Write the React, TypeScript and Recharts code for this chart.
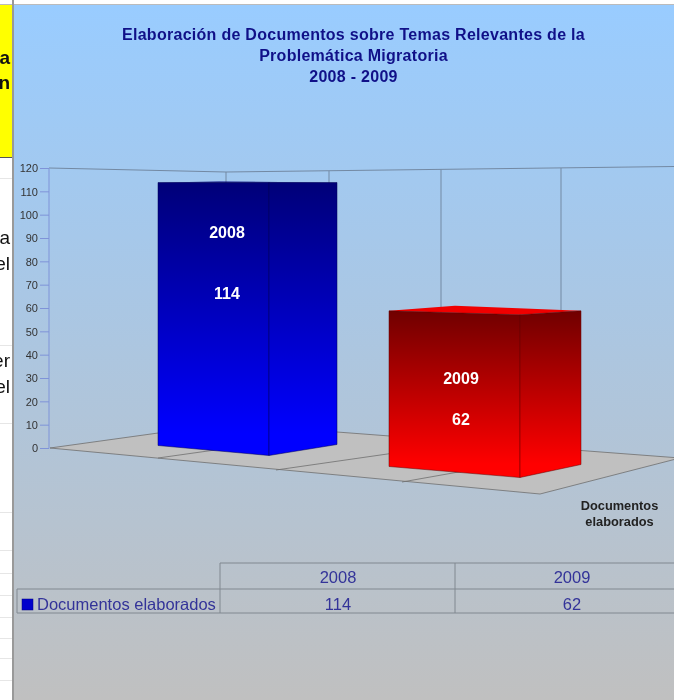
import { BarChart, Bar, XAxis, YAxis } from 'recharts'

const years = ['2008', '2009']
const documentos = [114, 62]
const yTicks = [0, 10, 20, 30, 40, 50, 60, 70, 80, 90, 100, 110, 120]
const titleLines = [
  'Elaboración de Documentos sobre Temas Relevantes de la',
  'Problemática Migratoria',
  '2008 - 2009',
]
const axisNameLines = ['Documentos', 'elaborados']
const seriesName = 'Documentos elaborados'

const chartData = years.map((year, i) => ({ year, value: documentos[i] }))

const FONT = '"Liberation Sans", Arial, sans-serif'

// perspective tweaks for each box, relative to what the scale gives the bar
const boxes = [
  { gradient: 'blueFace', top: '#000078', edge: '#000050', left: 4, split: 115, right: 183, back: 65, topY: 0, frontTop: 0, backTop: -1, baseLeft: -3, baseFront: 7, baseRight: -4, labelY1: 50, labelY2: 111, labelX: 73 },
  { gradient: 'redFace', top: '#f00000', edge: '#600000', left: -3, split: 128, right: 189, back: 63, topY: 7, frontTop: 11, backTop: 2, baseLeft: 18, baseFront: 29, baseRight: 16, labelY1: 75, labelY2: 116, labelX: 69 },
]

const Box3D = (props: any) => {
  const { x, y, height, index, payload } = props
  const b = boxes[index]
  const base = y + height
  const xl = x + b.left
  const xm = x + b.split
  const xr = x + b.right
  const pts = (p: number[][]) => p.map((q) => q.join(',')).join(' ')
  return (
    <g>
      <polygon
        points={pts([[xl, y + b.topY], [x + b.back, y + b.backTop], [xr, y + b.topY], [xm, y + b.frontTop]])}
        fill={b.top}
      />
      <polygon
        points={pts([[xl, y + b.topY], [xm, y + b.frontTop], [xm, base + b.baseFront], [xl, base + b.baseLeft]])}
        fill={`url(#${b.gradient})`}
        stroke={b.edge}
        strokeWidth={0.5}
      />
      <polygon
        points={pts([[xm, y + b.frontTop], [xr, y + b.topY], [xr, base + b.baseRight], [xm, base + b.baseFront]])}
        fill={`url(#${b.gradient})`}
        stroke={b.edge}
        strokeWidth={0.5}
      />
      <text x={x + b.labelX} y={y + b.labelY1 + 5.5} textAnchor="middle" fill="#fff" fontFamily={FONT} fontWeight="bold" fontSize={16}>
        {payload.year}
      </text>
      <text x={x + b.labelX} y={y + b.labelY2 + 5.5} textAnchor="middle" fill="#fff" fontFamily={FONT} fontWeight="bold" fontSize={16}>
        {payload.value}
      </text>
    </g>
  )
}

// the bits of the spreadsheet left of the chart
const rowLines = [178, 345, 423, 512, 550, 573, 595, 617, 638, 658, 680]
const cutWords = [
  { text: 'a', y: 47, bold: true },
  { text: 'n', y: 72, bold: true },
  { text: 'a', y: 227, bold: false },
  { text: 'el', y: 253, bold: false },
  { text: 'er', y: 350, bold: false },
  { text: 'el', y: 376, bold: false },
]

const wallLines = [
  { x: 226, top: 172 },
  { x: 329, top: 171 },
  { x: 441, top: 169.5 },
  { x: 561, top: 168 },
]

export default function App() {
  return (
    <div
      style={{
        position: 'absolute', left: 0, top: 0, width: 674, height: 700, overflow: 'hidden',
        background: '#fff', filter: 'blur(0.4px)',
      }}
    >
      {rowLines.map((y) => (
        <div key={y} style={{ position: 'absolute', left: 0, top: y, width: 13, height: 1, background: '#e6e6e6' }} />
      ))}
      <div style={{ position: 'absolute', left: 0, top: 5, width: 12, height: 152, background: '#ffff00', borderBottom: '1px solid #555' }} />
      {cutWords.map((w, i) => (
        <div
          key={i}
          style={{
            position: 'absolute', right: 664, top: w.y, fontFamily: FONT, fontSize: 19, lineHeight: '22px',
            fontWeight: w.bold ? 'bold' : 'normal', color: '#111', whiteSpace: 'nowrap',
          }}
        >
          {w.text}
        </div>
      ))}
      <div style={{ position: 'absolute', left: 0, top: 4, width: 674, height: 1, background: '#bbb' }} />
      <div style={{ position: 'absolute', left: 12, top: 0, width: 2, height: 700, background: '#999' }} />
      <div
        style={{
          position: 'absolute', left: 14, top: 5, width: 660, height: 695,
          background: 'linear-gradient(180deg, #99ccff 0%, #c0c0c0 100%)',
        }}
      >
        <div style={{ position: 'absolute', left: -14, top: -5 }}>
          <BarChart
            width={674}
            height={700}
            data={chartData}
            margin={{ top: 168.5, right: 0, bottom: 251.5, left: 0 }}
            barSize={186}
          >
            <defs>
              <linearGradient id="blueFace" x1="0" y1="0" x2="0" y2="1">
                <stop offset="0%" stopColor="#000078" />
                <stop offset="92%" stopColor="#0000ff" />
              </linearGradient>
              <linearGradient id="redFace" x1="0" y1="0" x2="0" y2="1">
                <stop offset="0%" stopColor="#700000" />
                <stop offset="92%" stopColor="#ff0000" />
              </linearGradient>
            </defs>

            {/* back walls and floor of the 3d box */}
            <polyline points="49,168 226,172 674,166.5" fill="none" stroke="#7389a3" strokeWidth={1} />
            {wallLines.map((w) => (
              <line key={w.x} x1={w.x} y1={w.top} x2={w.x} y2={430} stroke="#7389a3" strokeWidth={1} />
            ))}
            <polygon points="50,448 226,423.6 680,458 540,494" fill="#c0c0c0" stroke="#6f6f6f" strokeWidth={0.8} />
            <line x1={158} y1={458} x2={336} y2={433} stroke="#6f6f6f" strokeWidth={0.8} />
            <line x1={276} y1={470} x2={450} y2={445} stroke="#6f6f6f" strokeWidth={0.8} />
            <line x1={402} y1={482} x2={560} y2={454} stroke="#6f6f6f" strokeWidth={0.8} />

            <XAxis dataKey="year" hide padding={{ left: 79, right: 70 }} />
            <YAxis
              domain={[0, 120]}
              ticks={yTicks}
              interval={0}
              width={49}
              tickSize={9}
              tickMargin={2}
              axisLine={{ stroke: '#7f93d8', strokeWidth: 1 }}
              tickLine={{ stroke: '#7f93d8', strokeWidth: 1 }}
              tick={{ fontSize: 11, fill: '#333', fontFamily: FONT }}
            />
            <Bar dataKey="value" shape={Box3D} isAnimationActive={false} />

            {titleLines.map((line, i) => (
              <text key={i} x={353.5} y={40 + i * 21} textAnchor="middle" fontFamily={FONT} fontWeight="bold" fontSize={16} letterSpacing={0.28} fill="#101088">
                {line}
              </text>
            ))}
            {axisNameLines.map((line, i) => (
              <text key={i} x={619.5} y={510 + i * 16} textAnchor="middle" fontFamily={FONT} fontWeight="bold" fontSize={12.8} fill="#222">
                {line}
              </text>
            ))}

            {/* data table under the chart */}
            <g stroke="#808890" strokeWidth={1} fill="none">
              <polyline points="674,563 220,563 220,613" />
              <polyline points="17,613 17,589 674,589" />
              <line x1={17} y1={613} x2={674} y2={613} />
              <line x1={455} y1={563} x2={455} y2={613} />
            </g>
            <rect x={22} y={599} width={11} height={11} fill="#0000cc" stroke="#000080" strokeWidth={0.5} />
            <text x={37} y={610} fontFamily={FONT} fontSize={16.5} fill="#333399">
              {seriesName}
            </text>
            {years.map((year, i) => (
              <g key={year}>
                <text x={338 + i * 234} y={582.5} textAnchor="middle" fontFamily={FONT} fontSize={16.5} fill="#333399">
                  {year}
                </text>
                <text x={338 + i * 234} y={610} textAnchor="middle" fontFamily={FONT} fontSize={16.5} fill="#333399">
                  {documentos[i]}
                </text>
              </g>
            ))}
          </BarChart>
        </div>
      </div>
    </div>
  )
}
